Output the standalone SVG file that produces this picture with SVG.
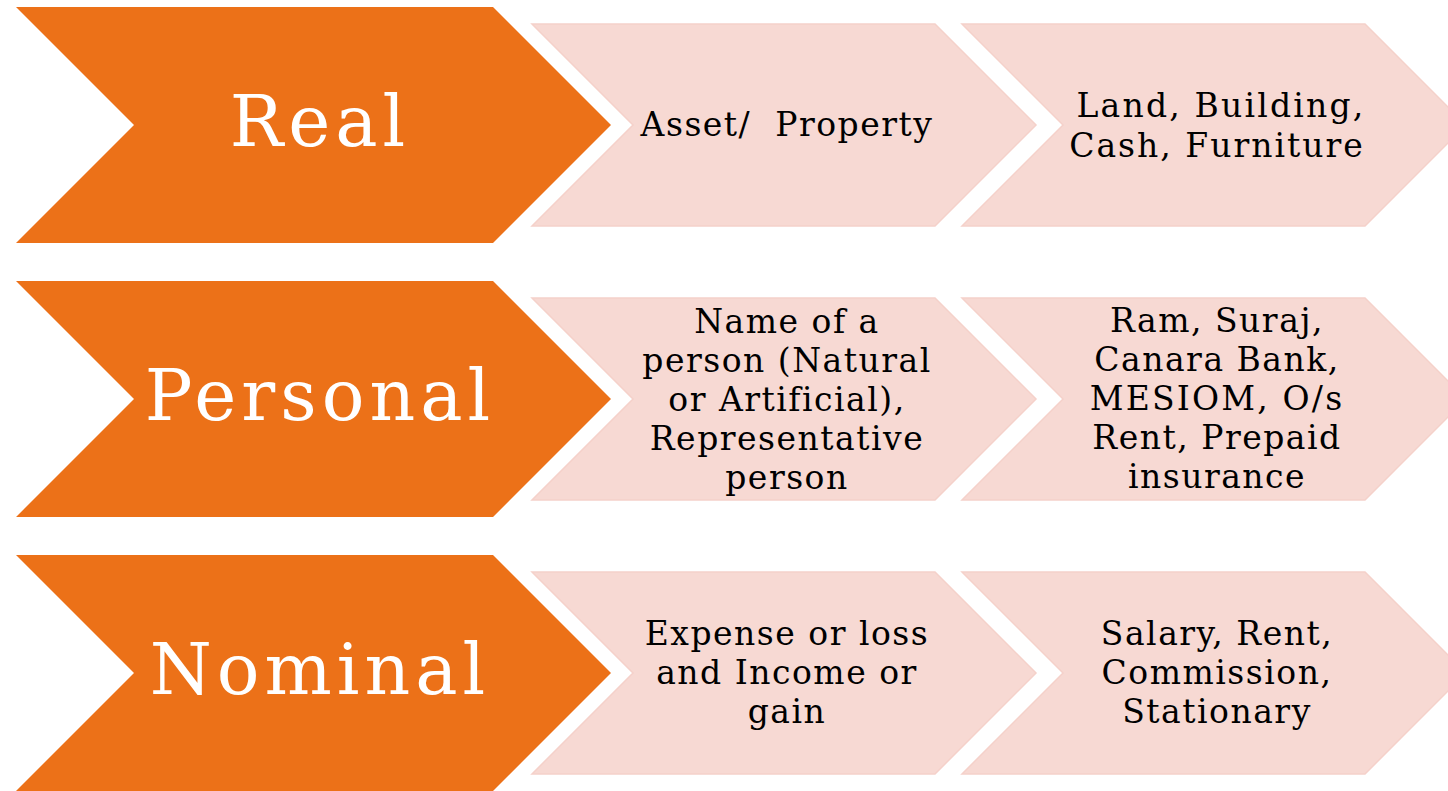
<svg xmlns="http://www.w3.org/2000/svg" width="1448" height="791" viewBox="0 0 1448 791">
<style>
.o{fill:#EC7118}
.p{fill:#F7D9D3;stroke:#F5D1CA;stroke-width:1.5}
.big{font-family:"DejaVu Serif","Liberation Serif",serif;font-size:71px;letter-spacing:5px;fill:#FFFFFF;text-anchor:middle}
.sm{font-family:"DejaVu Serif","Liberation Serif",serif;font-size:33px;letter-spacing:1.5px;fill:#000000;text-anchor:middle}
</style>
<rect width="1448" height="791" fill="#FFFFFF"/>
<g id="real">
<polygon class="o" points="16,7 493,7 611,125 493,243 16,243 134,125"/>
<text class="big" x="320" y="146">Real</text>
</g>
<g id="real-desc">
<polygon class="p" points="532,24 935,24 1036,125 935,226 532,226 633,125"/>
<text class="sm" x="787" y="136">Asset/&#160; Property</text>
</g>
<g id="real-ex">
<polygon class="p" points="962,24 1365,24 1466,125 1365,226 962,226 1063,125"/>
<text class="sm" x="1221" y="117" style="letter-spacing:2.2px">Land, Building,</text>
<text class="sm" x="1217" y="157" style="letter-spacing:2px">Cash, Furniture</text>
</g>
<g id="personal">
<polygon class="o" points="16,281 493,281 611,399 493,517 16,517 134,399"/>
<text class="big" x="320" y="420">Personal</text>
</g>
<g id="personal-desc">
<polygon class="p" points="532,298 935,298 1036,399 935,500 532,500 633,399"/>
<text class="sm" x="787" y="333">Name of a</text>
<text class="sm" x="787" y="372">person (Natural</text>
<text class="sm" x="787" y="411">or Artificial),</text>
<text class="sm" x="787" y="450">Representative</text>
<text class="sm" x="787" y="489">person</text>
</g>
<g id="personal-ex">
<polygon class="p" points="962,298 1365,298 1466,399 1365,500 962,500 1063,399"/>
<text class="sm" x="1217" y="332">Ram, Suraj,</text>
<text class="sm" x="1217" y="371">Canara Bank,</text>
<text class="sm" x="1217" y="410" style="letter-spacing:2.2px">MESIOM, O/s</text>
<text class="sm" x="1217" y="449">Rent, Prepaid</text>
<text class="sm" x="1217" y="488">insurance</text>
</g>
<g id="nominal">
<polygon class="o" points="16,555 493,555 611,673 493,791 16,791 134,673"/>
<text class="big" x="320" y="694">Nominal</text>
</g>
<g id="nominal-desc">
<polygon class="p" points="532,572 935,572 1036,673 935,774 532,774 633,673"/>
<text class="sm" x="787" y="645">Expense or loss</text>
<text class="sm" x="787" y="684">and Income or</text>
<text class="sm" x="787" y="723">gain</text>
</g>
<g id="nominal-ex">
<polygon class="p" points="962,572 1365,572 1466,673 1365,774 962,774 1063,673"/>
<text class="sm" x="1217" y="645">Salary, Rent,</text>
<text class="sm" x="1217" y="684">Commission,</text>
<text class="sm" x="1217" y="723">Stationary</text>
</g>
<g id="connectors"></g>
</svg>
